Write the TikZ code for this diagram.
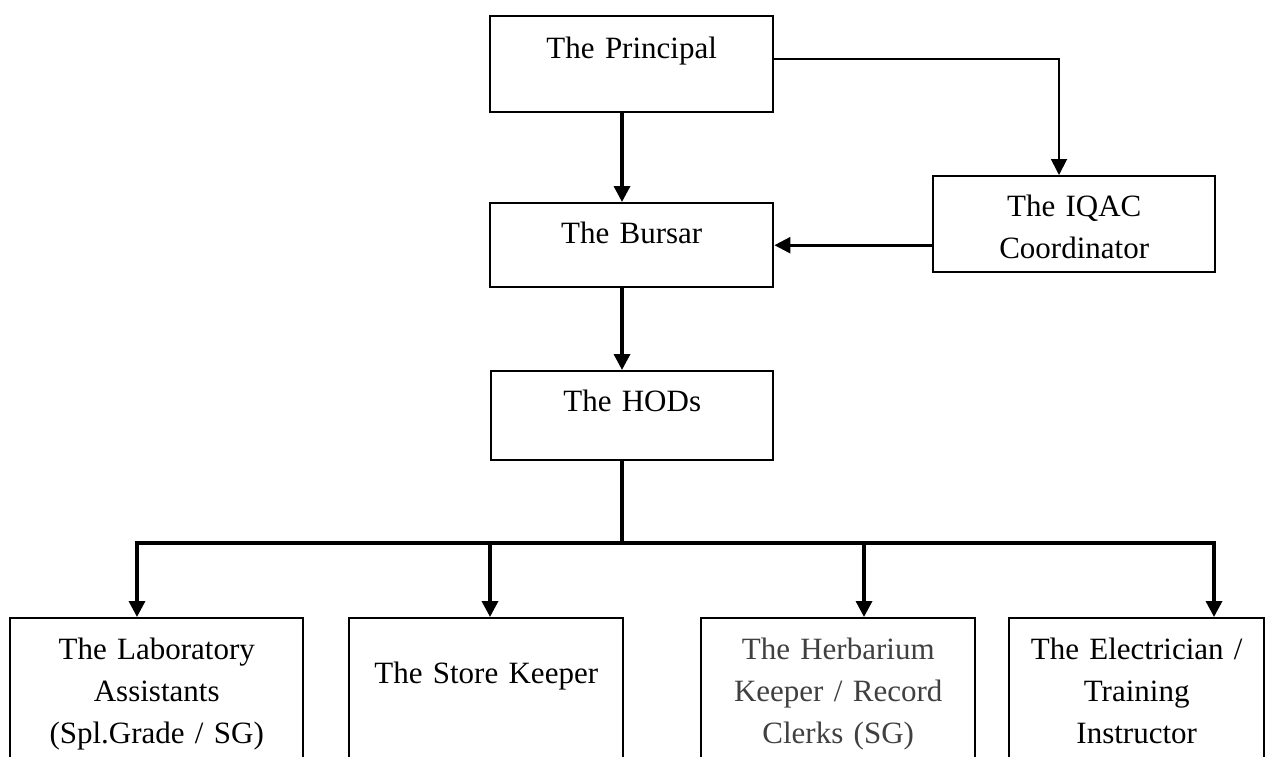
\documentclass[tikz,border=0pt]{standalone}
\usepackage{fontspec}
\setmainfont{Liberation Serif}
\usetikzlibrary{arrows.meta}

\tikzset{
	box/.style = {draw, line width=1.2pt, inner sep=0pt, align=center,
			anchor=north west, font=\fontsize{15.5}{21}\selectfont},
	bar/.style = {line width=1.7pt},
	tip/.style = {-{Triangle[length=8pt, width=8pt]}}
}

\begin{document}
\begin{tikzpicture}[x=0.5pt, y=-0.5pt]
	\useasboundingbox (0,0) rectangle (1268,756);

	% upper part
	\node[box, text width=141.5pt, text height=21pt, text depth=27pt]
	(principal) at (489,15) {The Principal};
	\node[box, text width=141.5pt, text height=20pt, text depth=22pt]
	(bursar) at (489,202) {The Bursar};
	\node[box, text width=141pt, text height=20pt, text depth=24.5pt]
	(hods) at (490,370) {The HODs};
	\node[box, text width=141pt, text height=20pt, text depth=28pt]
	(iqac) at (932,175) {The IQAC\\Coordinator};

	% staff
	\node[box, text width=146.5pt, text height=20.5pt, text depth=61pt]
	(lab) at (9,617) {The Laboratory\\Assistants\\(Spl.Grade / SG)};
	\node[box, text width=137pt, text height=32.5pt, text depth=49pt]
	(store) at (348,617) {The Store Keeper};
	\node[box, text width=137pt, text height=20.5pt, text depth=61pt,
		text=black!75] (herb) at (700,617)
	{The Herbarium\\Keeper / Record\\Clerks (SG)};
	\node[box, text width=127.5pt, text height=20.5pt, text depth=61pt]
	(elec) at (1008,617) {The Electrician /\\Training\\Instructor};

	\coordinate (spine) at (622,0);
	\coordinate (tap) at (1059,59);
	\coordinate (bus-w) at (137,543);
	\coordinate (bus-e) at (1214,543);

	\draw[bar, tip] (principal.south -| spine) -- (bursar.north -| spine);
	\draw[bar, tip] (bursar.south -| spine) -- (hods.north -| spine);
	\draw[line width=0.9pt, tip] (principal.east |- tap) -- (tap)
	-- (iqac.north -| tap);
	\draw[line width=1.3pt, tip] (iqac.west |- bursar.east) -- (bursar.east);

	% bus to the staff
	\draw[bar] (hods.south -| spine) -- (spine |- bus-w);
	\draw[bar, tip] (spine |- bus-w) -- (bus-w) -- (lab.north -| bus-w);
	\draw[bar, tip] (spine |- bus-e) -- (bus-e) -- (elec.north -| bus-e);
	\foreach \n/\x in {store/490, herb/864} {
			\coordinate (d-\n) at (\x,543);
			\draw[bar, tip] (d-\n) -- (\n.north -| d-\n);
		}
\end{tikzpicture}
\end{document}
